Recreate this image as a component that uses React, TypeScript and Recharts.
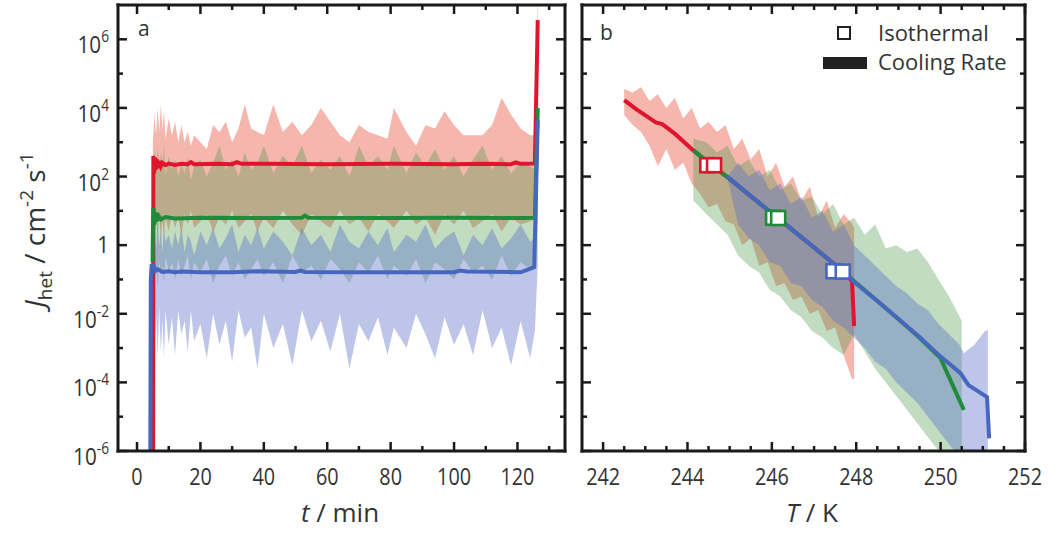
import React from 'react';
import { ComposedChart, Area, Line, Scatter, XAxis, YAxis } from 'recharts';

// ---------- Panel a : J_het vs t (isothermal runs), values as log10 exponents ----------
const tBand = [5, 5.5, 6, 6.5, 7, 7.5, 8, 8.5, 9, 10, 11, 12, 13, 14, 15, 16, 17, 18, 20, 22, 24, 26, 28, 30, 32, 34, 36, 38, 40, 43, 46, 49, 52, 55, 58, 61, 64, 67, 70, 73, 76, 79, 81, 85, 88, 91, 94, 97, 100, 103, 106, 109, 112, 115, 118, 121, 124, 125.5, 126.4];
const redHiExp = [3.0, 3.8, 3.2, 4.0, 3.3, 4.1, 3.4, 3.9, 3.1, 3.7, 3.2, 3.6, 3.0, 3.5, 3.0, 3.3, 2.9, 3.2, 3.0, 2.8, 3.5, 3.3, 3.6, 3.0, 3.4, 4.1, 3.4, 3.3, 3.2, 4.1, 3.3, 3.6, 3.2, 3.5, 4.0, 3.6, 3.2, 3.0, 3.5, 3.3, 3.2, 3.1, 4.0, 3.3, 2.9, 3.5, 3.4, 3.9, 3.5, 3.2, 3.2, 3.2, 3.5, 4.3, 3.8, 3.4, 3.2, 3.2, 7.5];
const redLoExp = [0.5, 0.0, 0.8, 0.2, 0.9, 0.1, 0.7, 0.3, 0.8, 0.4, 0.9, 0.5, 0.8, 0.3, 0.9, 0.6, 1.0, 0.5, 0.7, 0.9, 0.4, 0.8, 0.6, 1.0, 0.5, 0.7, 0.9, 0.4, 0.8, 0.5, 1.0, 0.6, 0.3, 0.9, 0.7, 0.5, 1.0, 0.6, 0.8, 0.4, 0.9, 0.7, 0.5, 1.0, 0.6, 0.8, 0.3, 0.9, 0.6, 1.0, 0.5, 0.7, 0.9, 0.4, 0.8, 0.6, 0.7, 0.8, 2.3];
const greenHiExp = [2.0, 2.8, 2.2, 2.9, 2.1, 2.7, 2.3, 2.9, 2.0, 2.6, 2.2, 2.5, 2.0, 2.4, 2.1, 2.6, 1.9, 2.3, 2.5, 2.0, 2.4, 2.9, 2.2, 2.5, 2.0, 2.7, 2.2, 2.4, 2.9, 2.1, 2.6, 2.3, 2.9, 2.1, 2.5, 2.2, 2.6, 2.0, 2.9, 2.3, 2.6, 2.2, 2.9, 2.1, 2.7, 2.3, 2.8, 2.2, 2.6, 2.0, 2.5, 2.9, 2.2, 2.6, 2.1, 2.4, 2.3, 2.2, 4.0];
const greenLoExp = [-0.3, -1.0, -0.5, -1.2, -0.4, -0.9, -0.6, -1.1, -0.3, -0.8, -0.5, -1.0, -0.4, -0.9, -0.6, -0.3, -1.0, -0.5, -0.8, -0.4, -1.1, -0.6, -0.3, -0.9, -0.5, -1.0, -0.7, -0.4, -0.9, -0.5, -1.1, -0.3, -0.8, -0.6, -1.0, -0.4, -0.7, -1.1, -0.5, -0.8, -0.3, -1.0, -0.6, -0.9, -0.4, -1.1, -0.5, -0.7, -1.0, -0.4, -0.8, -0.6, -1.0, -0.3, -0.9, -0.5, -0.7, -0.6, 0.8];
const blueHiExp = [0.2, 0.5, -0.1, 0.6, 0.0, 0.4, -0.2, 0.5, 0.1, 0.3, -0.1, 0.4, 0.0, 0.5, -0.2, 0.3, 0.1, -0.3, 0.4, 0.0, 0.5, -0.1, 0.2, 0.6, -0.2, 0.3, 0.0, 0.5, -0.1, 0.4, 0.1, -0.3, 0.5, 0.0, 0.3, -0.2, 0.6, 0.1, -0.1, 0.4, 0.0, 0.5, -0.2, 0.3, 0.1, 0.6, -0.1, 0.2, 0.4, -0.3, 0.3, 0.0, 0.5, -0.1, 0.2, 0.6, 0.1, 0.2, 3.6];
const blueLoExp = [-1.5, -3.0, -2.0, -3.2, -1.8, -3.1, -2.2, -3.3, -1.9, -2.9, -2.1, -3.2, -1.9, -2.6, -2.2, -3.1, -1.9, -2.8, -2.3, -3.3, -2.0, -2.9, -2.2, -3.4, -1.9, -2.7, -2.4, -3.6, -2.0, -3.0, -2.3, -3.5, -1.9, -2.8, -2.2, -3.1, -2.0, -3.6, -2.3, -2.8, -2.1, -3.2, -2.4, -3.0, -2.0, -2.6, -3.3, -2.1, -2.9, -2.3, -3.2, -1.9, -3.0, -2.4, -3.5, -2.2, -3.3, -2.5, -0.6];

const tRedLine = [5.1, 5.15, 5.4, 5.7, 6.0, 6.3, 6.6, 7.0, 7.5, 8.0, 9, 10, 12, 14, 16, 17, 18, 25, 30, 31.5, 33, 40, 60, 80, 100, 110, 118, 119.5, 121, 125.5, 126.4];
const redLineExp = [-6, 2.6, 2.1, 2.55, 2.2, 2.5, 2.25, 2.45, 2.3, 2.4, 2.33, 2.38, 2.34, 2.37, 2.36, 2.42, 2.36, 2.37, 2.36, 2.42, 2.37, 2.37, 2.36, 2.37, 2.36, 2.37, 2.36, 2.41, 2.37, 2.38, 6.56];
const tGreenLine = [4.9, 5.0, 5.2, 5.5, 5.8, 6.2, 6.8, 7.5, 9, 12, 20, 40, 52, 53, 54, 80, 100, 120, 125.5, 126.4];
const greenLineExp = [-0.5, 0.3, 1.08, 0.6, 0.95, 0.7, 0.85, 0.75, 0.82, 0.78, 0.8, 0.79, 0.8, 0.86, 0.8, 0.79, 0.8, 0.79, 0.8, 4.0];
const tBlueLine = [4.2, 4.35, 4.6, 5.2, 5.8, 6.5, 8, 10, 12, 14, 20, 30, 36, 38, 50, 51.5, 53, 70, 100, 102, 104, 121, 125.3, 126.4];
const blueLineExp = [-6, -1.0, -0.6, -0.58, -0.75, -0.7, -0.78, -0.76, -0.79, -0.77, -0.79, -0.79, -0.77, -0.76, -0.78, -0.74, -0.78, -0.79, -0.79, -0.74, -0.77, -0.79, -0.64, 3.64];

// ---------- Panel b : J_het vs T (cooling-rate runs + isothermal points) ----------
const redBandT = [242.5, 242.7, 242.9, 243.1, 243.3, 243.5, 243.7, 243.9, 244.1, 244.3, 244.5, 244.7, 244.9, 245.1, 245.3, 245.5, 245.7, 245.9, 246.1, 246.3, 246.5, 246.7, 246.9, 247.1, 247.3, 247.5, 247.7, 247.9, 247.95];
const redBandHiExp = [4.55, 4.45, 4.6, 4.2, 4.4, 4.0, 4.3, 3.7, 4.0, 3.4, 3.6, 3.3, 3.5, 2.8, 3.1, 2.5, 2.8, 2.0, 2.4, 1.7, 2.0, 1.3, 1.7, 0.8, 1.3, 0.5, 0.9, 0.64, 0.5];
const redBandLoExp = [3.8, 3.5, 3.3, 2.9, 2.3, 2.8, 2.2, 2.4, 1.8, 1.5, 1.1, 1.2, 0.7, 0.6, 0.0, 0.2, -0.6, -0.5, -1.2, -1.1, -1.6, -1.5, -2.0, -1.9, -2.5, -2.4, -3.2, -3.9, -3.9];
const greenBandT = [244.14, 244.45, 244.7, 244.95, 245.2, 245.45, 245.7, 245.95, 246.2, 246.45, 246.7, 246.95, 247.2, 247.45, 247.7, 247.95, 248.2, 248.45, 248.7, 248.95, 249.2, 249.45, 249.7, 249.95, 250.2, 250.5];
const greenBandHiExp = [3.1, 3.0, 2.7, 2.9, 2.3, 2.5, 2.0, 2.2, 1.6, 1.8, 1.3, 1.4, 0.9, 1.2, 0.6, 0.8, 0.3, 0.6, -0.1, 0.0, -0.2, -0.1, -0.5, -1.0, -1.5, -2.2];
const greenBandLoExp = [1.3, 0.9, 0.6, 0.3, -0.3, -0.6, -0.8, -1.3, -1.5, -1.9, -2.1, -2.5, -2.7, -3.0, -3.2, -2.6, -3.1, -3.6, -4.0, -4.4, -4.8, -5.2, -5.6, -6.0, -6.5, -6.5];
const blueBandT = [244.94, 245.2, 245.45, 245.7, 245.95, 246.2, 246.45, 246.7, 246.95, 247.2, 247.45, 247.7, 247.95, 248.2, 248.45, 248.7, 248.95, 249.2, 249.45, 249.7, 249.95, 250.2, 250.45, 250.55, 250.8, 251.05, 251.12];
const blueBandHiExp = [2.0, 2.4, 2.0, 2.2, 1.6, 1.8, 1.2, 1.4, 0.8, 1.0, 0.4, 0.6, 0.0, -0.3, -0.6, -0.9, -1.2, -1.4, -1.7, -1.9, -2.3, -2.6, -2.9, -3.15, -2.9, -2.5, -2.48];
const blueBandLoExp = [2.0, 0.6, 0.2, 0.0, -0.5, -0.6, -1.1, -1.2, -1.6, -1.8, -2.2, -2.4, -2.7, -3.0, -3.4, -3.6, -4.0, -4.3, -4.6, -5.0, -5.4, -5.8, -6.2, -6.5, -6.5, -6.5, -6.5];

const tRedCR = [242.5, 242.8, 243.1, 243.25, 243.4, 243.7, 244.1, 244.5, 245.0, 245.5, 246.0, 246.5, 247.0, 247.5, 247.9, 247.95];
const redCRExp = [4.23, 3.95, 3.7, 3.58, 3.53, 3.25, 2.8, 2.4, 1.93, 1.43, 0.93, 0.43, -0.07, -0.57, -1.05, -2.36];
const tGreenCR = [244.14, 244.5, 245.0, 245.5, 246.0, 246.5, 247.0, 247.5, 248.0, 248.5, 249.0, 249.5, 250.0, 250.55];
const greenCRExp = [2.77, 2.4, 1.93, 1.43, 0.93, 0.43, -0.07, -0.57, -1.1, -1.63, -2.15, -2.7, -3.3, -4.8];
const tBlueCR = [244.94, 245.5, 246.0, 246.5, 247.0, 247.5, 247.93, 248.5, 249.0, 249.5, 250.0, 250.2, 250.47, 250.66, 251.1, 251.15];
const blueCRExp = [2.0, 1.43, 0.93, 0.43, -0.07, -0.57, -1.05, -1.63, -2.15, -2.68, -3.25, -3.45, -3.73, -4.08, -4.43, -5.63];

const isoT = [244.47, 244.63, 246.03, 246.15, 247.46, 247.68];
const isoExp = [2.33, 2.33, 0.8, 0.79, -0.76, -0.77];
const isoSeries = [0, 0, 1, 1, 2, 2];

// ---------- axis ticks ----------
const yTicks = [1e-6, 1e-5, 1e-4, 1e-3, 1e-2, 1e-1, 1, 1e1, 1e2, 1e3, 1e4, 1e5, 1e6];
const tTicks = [0, 10, 20, 30, 40, 50, 60, 70, 80, 90, 100, 110, 120, 130];
const TTicks = [242, 242.5, 243, 243.5, 244, 244.5, 245, 245.5, 246, 246.5, 247, 247.5, 248, 248.5, 249, 249.5, 250, 250.5, 251, 251.5, 252];

// ---------- helpers ----------
const pts = (xs: number[], es: number[]) => xs.map((x, i) => ({ x, y: Math.pow(10, es[i]) }));
const band = (xs: number[], lo: number[], hi: number[]) =>
  xs.map((x, i) => ({ x, r: [Math.pow(10, lo[i]), Math.pow(10, hi[i])] }));

const FONT = "'Open Sans', 'DejaVu Sans', sans-serif";
const INK = '#1a1a1a';
const TXT = '#333';
const RED = '#e0142d';
const GREEN = '#1f8b3b';
const BLUE = '#4767be';
const RED_FILL = '#e8503c';
const GREEN_FILL = '#4d9a4a';
const BLUE_FILL = '#5a6fc8';
const SERIES_COLORS = [RED, GREEN, BLUE];

const W = 1050;
const H = 537;
const TOP = 5;
const BOTTOM = 451;

const frame = { stroke: INK, strokeWidth: 3, strokeLinecap: 'square' as const };

const makeBottomTick = (isMajor: (v: number) => boolean, withLabel: boolean) => (p: any) => {
  const { x, y, payload } = p;
  const major = isMajor(payload.value);
  return (
    <g>
      <line x1={x} x2={x} y1={y} y2={y - (major ? 9 : 5)} stroke={INK} strokeWidth={2.5} />
      {major && withLabel && (
        <g transform={`translate(${x},${y + 34}) scale(0.86,1)`}>
          <text x={0} y={0} textAnchor="middle" fontSize={23} fontFamily={FONT} fill={TXT}>
            {payload.value}
          </text>
        </g>
      )}
    </g>
  );
};

const makeTopTick = (isMajor: (v: number) => boolean) => (p: any) => {
  const { x, y, payload } = p;
  const major = isMajor(payload.value);
  return <line x1={x} x2={x} y1={y} y2={y + (major ? 9 : 5)} stroke={INK} strokeWidth={2.5} />;
};

const yMajor = (v: number) => Math.round(Math.log10(v)) % 2 === 0;

const makeLeftTick = (withLabel: boolean) => (p: any) => {
  const { x, y, payload } = p;
  const e = Math.round(Math.log10(payload.value));
  const major = e % 2 === 0;
  return (
    <g>
      <line x1={x} x2={x + (major ? 9 : 5)} y1={y} y2={y} stroke={INK} strokeWidth={2.5} />
      {major && withLabel && (
        <g transform={`translate(${x - 9},${y}) scale(0.86,1)`}>
          {e === 0 ? (
            <text x={0} y={8} textAnchor="end" fontSize={24} fontFamily={FONT} fill={TXT}>1</text>
          ) : (
            <text x={0} y={14} textAnchor="end" fontSize={24} fontFamily={FONT} fill={TXT}>
              10<tspan dy={-11} fontSize={16}>{e}</tspan>
            </text>
          )}
        </g>
      )}
    </g>
  );
};

const RightTick = (p: any) => {
  const { x, y, payload } = p;
  const major = yMajor(payload.value);
  return <line x1={x} x2={x - (major ? 9 : 5)} y1={y} y2={y} stroke={INK} strokeWidth={2.5} />;
};

const IsoSquare = (p: any) => {
  const { cx, cy, index } = p;
  const c = SERIES_COLORS[isoSeries[index]];
  const s = 14;
  return <rect x={cx - s / 2} y={cy - s / 2} width={s} height={s} fill="#fff" stroke={c} strokeWidth={2.6} />;
};

const tMajor = (v: number) => v % 20 === 0;
const TMajor = (v: number) => v % 2 === 0;

const yDomain: [number, number] = [1e-6, 1e7];

// axes are 1px thick so that Recharts renders them; margins compensate
const axisCommon = { tickSize: 0, tickMargin: 0, tickLine: false, axisLine: frame, interval: 0 as const, allowDataOverflow: true };

function PanelA() {
  return (
    <ComposedChart width={W} height={H} margin={{ top: TOP - 1, left: 118 - 1, right: W - 565 - 1, bottom: H - BOTTOM - 1 }}>
      <XAxis dataKey="x" type="number" domain={[-6, 135]} ticks={tTicks} height={1} {...axisCommon}
        tick={makeBottomTick(tMajor, true)} />
      <XAxis xAxisId="top" orientation="top" dataKey="x" type="number" domain={[-6, 135]} ticks={tTicks} height={1} {...axisCommon}
        tick={makeTopTick(tMajor)} />
      <YAxis type="number" scale="log" domain={yDomain} ticks={yTicks} width={1} {...axisCommon} tick={makeLeftTick(true)} />
      <YAxis yAxisId="right" orientation="right" type="number" scale="log" domain={yDomain} ticks={yTicks} width={1} {...axisCommon} tick={RightTick} />
      <Area data={band(tBand, redLoExp, redHiExp)} dataKey="r" type="linear" stroke="none" fill={RED_FILL} fillOpacity={0.42} isAnimationActive={false} />
      <Area data={band(tBand, greenLoExp, greenHiExp)} dataKey="r" type="linear" stroke="none" fill={GREEN_FILL} fillOpacity={0.35} isAnimationActive={false} />
      <Area data={band(tBand, blueLoExp, blueHiExp)} dataKey="r" type="linear" stroke="none" fill={BLUE_FILL} fillOpacity={0.4} isAnimationActive={false} />
      <Line data={pts(tRedLine, redLineExp)} dataKey="y" type="linear" stroke={RED} strokeWidth={4} dot={false} isAnimationActive={false} />
      <Line data={pts(tGreenLine, greenLineExp)} dataKey="y" type="linear" stroke={GREEN} strokeWidth={4} dot={false} isAnimationActive={false} />
      <Line data={pts(tBlueLine, blueLineExp)} dataKey="y" type="linear" stroke={BLUE} strokeWidth={4} dot={false} isAnimationActive={false} />
    </ComposedChart>
  );
}

function PanelB() {
  return (
    <ComposedChart width={W} height={H} margin={{ top: TOP - 1, left: 582 - 1, right: W - 1025 - 1, bottom: H - BOTTOM - 1 }}>
      <XAxis dataKey="x" type="number" domain={[241.5, 252]} ticks={TTicks} height={1} {...axisCommon}
        tick={makeBottomTick(TMajor, true)} />
      <XAxis xAxisId="top" orientation="top" dataKey="x" type="number" domain={[241.5, 252]} ticks={TTicks} height={1} {...axisCommon}
        tick={makeTopTick(TMajor)} />
      <YAxis type="number" scale="log" domain={yDomain} ticks={yTicks} width={1} {...axisCommon} tick={makeLeftTick(false)} />
      <YAxis yAxisId="right" orientation="right" type="number" scale="log" domain={yDomain} ticks={yTicks} width={1} {...axisCommon} tick={RightTick} />
      <Area data={band(redBandT, redBandLoExp, redBandHiExp)} dataKey="r" type="linear" stroke="none" fill={RED_FILL} fillOpacity={0.42} isAnimationActive={false} />
      <Area data={band(greenBandT, greenBandLoExp, greenBandHiExp)} dataKey="r" type="linear" stroke="none" fill={GREEN_FILL} fillOpacity={0.35} isAnimationActive={false} />
      <Area data={band(blueBandT, blueBandLoExp, blueBandHiExp)} dataKey="r" type="linear" stroke="none" fill={BLUE_FILL} fillOpacity={0.4} isAnimationActive={false} />
      <Line data={pts(tRedCR, redCRExp)} dataKey="y" type="linear" stroke={RED} strokeWidth={4} dot={false} isAnimationActive={false} />
      <Line data={pts(tGreenCR, greenCRExp)} dataKey="y" type="linear" stroke={GREEN} strokeWidth={4} dot={false} isAnimationActive={false} />
      <Line data={pts(tBlueCR, blueCRExp)} dataKey="y" type="linear" stroke={BLUE} strokeWidth={4} dot={false} isAnimationActive={false} />
      <Scatter data={pts(isoT, isoExp)} dataKey="y" shape={IsoSquare} isAnimationActive={false} />
    </ComposedChart>
  );
}

export default function App() {
  return (
    <div style={{ position: 'absolute', left: 0, top: 0, width: W, height: H, background: '#fff', overflow: 'hidden' }}>
      <div style={{ position: 'absolute', left: 0, top: 0 }}><PanelA /></div>
      <div style={{ position: 'absolute', left: 0, top: 0 }}><PanelB /></div>
      <svg width={W} height={H} style={{ position: 'absolute', left: 0, top: 0, pointerEvents: 'none' }} fontFamily={FONT}>
        <text x={138} y={36} fontSize={21} fill={TXT}>a</text>
        <text x={600} y={40} fontSize={21} fill={TXT}>b</text>
        <text transform="translate(45,230) rotate(-90)" textAnchor="middle" fontSize={28} fill={TXT}>
          <tspan fontStyle="italic">J</tspan>
          <tspan dy={7} fontSize={19}>het</tspan>
          <tspan dy={-7}> / cm</tspan>
          <tspan dy={-12} fontSize={19}>-2</tspan>
          <tspan dy={12}> s</tspan>
          <tspan dy={-12} fontSize={19}>-1</tspan>
        </text>
        <text x={340} y={522} textAnchor="middle" fontSize={26} fill={TXT}>
          <tspan fontStyle="italic">t</tspan> / min
        </text>
        <text x={812} y={522} textAnchor="middle" fontSize={26} fill={TXT}>
          <tspan fontStyle="italic">T</tspan> / K
        </text>
        <rect x={838} y={27} width={12} height={12} fill="#fff" stroke="#222" strokeWidth={2} />
        <text x={878} y={41} fontSize={22} fill={TXT}>Isothermal</text>
        <rect x={823} y={57} width={44} height={12} fill="#222" />
        <text x={878} y={70} fontSize={22} fill={TXT}>Cooling Rate</text>
      </svg>
    </div>
  );
}
